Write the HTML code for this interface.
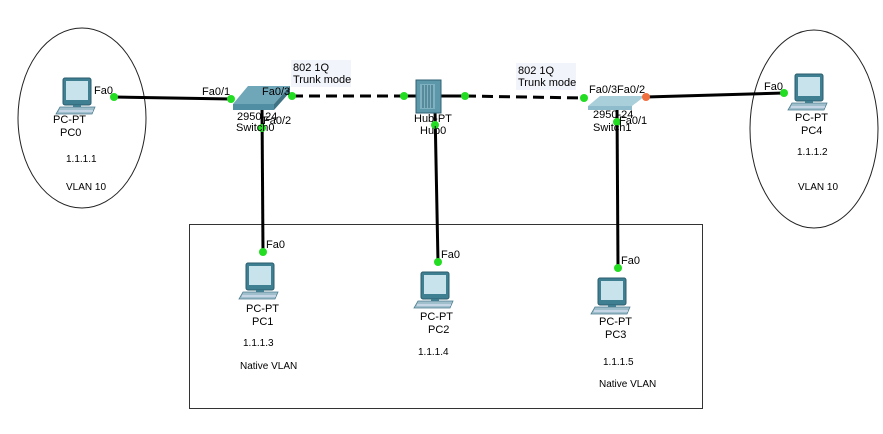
<!DOCTYPE html>
<html><head><meta charset="utf-8"><style>
body{margin:0;background:#fff}
svg{display:block;font-family:"Liberation Sans",sans-serif;font-size:11px}
</style></head><body>
<svg width="883" height="434" viewBox="0 0 883 434">
<defs>
<g id="pc">
<rect x="8" y="0" width="28" height="27" rx="2" fill="#3f7f92" stroke="#2b5e6d"/>
<rect x="11" y="3" width="22" height="19" fill="#c9e3ec"/>
<rect x="18" y="27" width="8" height="3" fill="#3f7f92"/>
<polygon points="5,29 40,29 37,36 1,36" fill="#9fbfcc" stroke="#4f7f90" stroke-width="0.8"/>
<line x1="4" y1="33" x2="38" y2="33" stroke="#eef" stroke-width="1"/>
</g>
</defs>
<ellipse cx="82" cy="118" rx="64" ry="90" fill="none" stroke="#222" stroke-width="1"/>
<ellipse cx="814" cy="129" rx="64" ry="99" fill="none" stroke="#222" stroke-width="1"/>
<rect x="189.5" y="224.5" width="513" height="184" fill="none" stroke="#333" stroke-width="1"/>

<g stroke="#000" stroke-width="3">
<line x1="114" y1="97" x2="231" y2="99"/>
<line x1="292" y1="96" x2="404" y2="96" stroke-dasharray="11,6"/>
<line x1="465" y1="96" x2="584" y2="98" stroke-dasharray="11,6"/>
<line x1="646" y1="97" x2="784" y2="93"/>
<line x1="262" y1="106" x2="263" y2="252"/>
<line x1="435" y1="110" x2="438" y2="262"/>
<line x1="617" y1="106" x2="618" y2="268"/>
<line x1="404" y1="96" x2="465" y2="96"/>
</g>

<!-- switch0 -->
<polygon points="248,86 290,86 274,104 233,104" fill="#6fa6b8"/>
<polygon points="233,104 274,104 274,110 233,110" fill="#4f8ea3"/>
<polygon points="274,104 290,86 290,92 274,110" fill="#3f7384"/>
<!-- switch1 -->
<polygon points="600,96 645,96 632,106 588,106" fill="#a9cfdb"/>
<polygon points="588,106 632,106 632,110 588,110" fill="#8fbccc"/>
<!-- hub -->
<rect x="416" y="80" width="25" height="33" fill="#5d97aa" stroke="#2f6273"/>
<rect x="420" y="84" width="15" height="25" fill="#7fb1c1"/>
<g stroke="#2f6273" stroke-width="1"><line x1="423" y1="85" x2="423" y2="108"/><line x1="426" y1="85" x2="426" y2="108"/><line x1="429" y1="85" x2="429" y2="108"/><line x1="432" y1="85" x2="432" y2="108"/></g>

<use href="#pc" x="55" y="78"/>
<use href="#pc" x="238" y="263"/>
<use href="#pc" x="413" y="272"/>
<use href="#pc" x="590" y="278"/>
<use href="#pc" x="787" y="74"/>

<g fill="#22dd22">
<circle cx="114" cy="97" r="4"/><circle cx="231" cy="99" r="4"/><circle cx="292" cy="96" r="4"/>
<circle cx="404" cy="96" r="4"/><circle cx="465" cy="96" r="4"/><circle cx="584" cy="98" r="4"/>
<circle cx="784" cy="93" r="4"/><circle cx="262" cy="128" r="4"/><circle cx="263" cy="252" r="4"/>
<circle cx="435" cy="125" r="4"/><circle cx="438" cy="262" r="4"/><circle cx="617" cy="122" r="4"/>
<circle cx="618" cy="268" r="4"/>
</g>
<circle cx="646" cy="97" r="4" fill="#f07040"/>

<rect x="291" y="60" width="60" height="27" fill="#f2f4fb"/>
<rect x="516" y="63" width="60" height="27" fill="#f2f4fb"/>
<g fill="#000">
<text x="293" y="71">802 1Q</text><text x="293" y="83">Trunk mode</text>
<text x="518" y="74">802 1Q</text><text x="518" y="86">Trunk mode</text>
<text x="94" y="94">Fa0</text>
<text x="202" y="95">Fa0/1</text>
<text x="262" y="95">Fa0/3</text>
<text x="237" y="120">2950-24</text><text x="236" y="131">Switch0</text>
<text x="263" y="124">Fa0/2</text>
<text x="414" y="122">Hub-PT</text><text x="420" y="134">Hub0</text>
<text x="589" y="93">Fa0/3</text><text x="617" y="93">Fa0/2</text>
<text x="593" y="118">2950-24</text><text x="593" y="131">Switch1</text>
<text x="619" y="124">Fa0/1</text>
<text x="764" y="90">Fa0</text>
<text x="53" y="123">PC-PT</text><text x="60" y="136">PC0</text>
<text x="795" y="121">PC-PT</text><text x="801" y="134">PC4</text>
<text x="66" y="162" font-size="10">1.1.1.1</text>
<text x="66" y="190" font-size="10">VLAN 10</text>
<text x="797" y="155" font-size="10">1.1.1.2</text>
<text x="798" y="190" font-size="10">VLAN 10</text>
<text x="266" y="248">Fa0</text>
<text x="441" y="258">Fa0</text>
<text x="621" y="264">Fa0</text>
<text x="246" y="312">PC-PT</text><text x="252" y="325">PC1</text>
<text x="420" y="320">PC-PT</text><text x="428" y="333">PC2</text>
<text x="599" y="325">PC-PT</text><text x="605" y="338">PC3</text>
<text x="243" y="346" font-size="10">1.1.1.3</text>
<text x="240" y="369" font-size="10">Native VLAN</text>
<text x="418" y="355" font-size="10">1.1.1.4</text>
<text x="603" y="365" font-size="10">1.1.1.5</text>
<text x="599" y="387" font-size="10">Native VLAN</text>
</g>
</svg>
</body></html>
